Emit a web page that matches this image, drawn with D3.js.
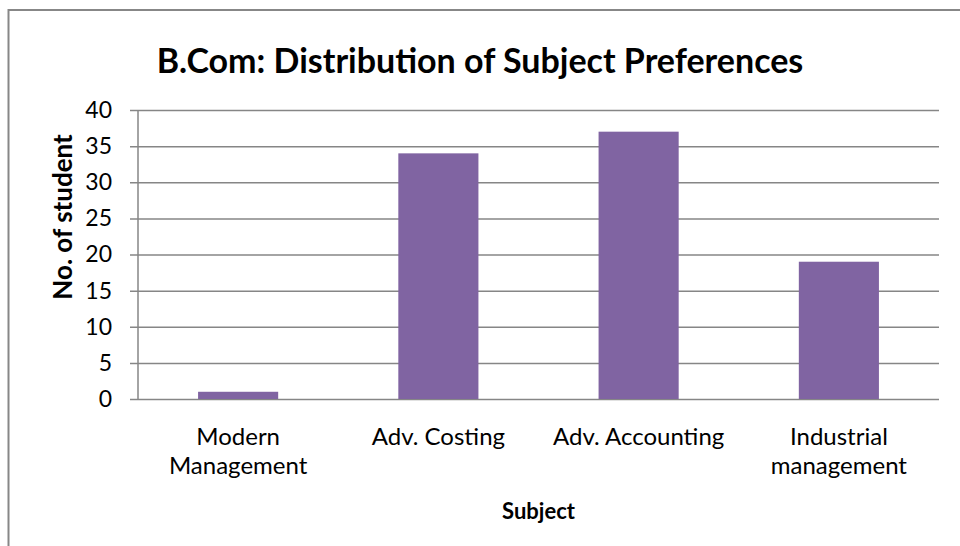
<!DOCTYPE html>
<html>
<head>
<meta charset="utf-8">
<script src="https://cdn.jsdelivr.net/npm/d3@7"></script>
<style>
  body { margin: 0; background: #fff; }
  svg { display: block; font-family: Lato, "Open Sans", sans-serif; }
</style>
</head>
<body>
<svg id="svg" width="960" height="546"></svg>
<script>
var subjects = ['Modern Management', 'Adv. Costing', 'Adv. Accounting', 'Industrial management'];
var subjectLines = [['Modern', 'Management'], ['Adv. Costing'], ['Adv. Accounting'], ['Industrial', 'management']];
var students = [1, 34, 37, 19];
var yTicks = [0, 5, 10, 15, 20, 25, 30, 35, 40];

var svg = d3.select('#svg');
var margin = { top: 110, right: 21, bottom: 147, left: 138 };
var width = 960, height = 546;
var innerW = width - margin.left - margin.right;
var innerH = height - margin.top - margin.bottom;

// outer chart border, runs off the page on the right and bottom
svg.append('rect')
   .attr('x', 8.5).attr('y', 10)
   .attr('width', 1000).attr('height', 600)
   .attr('fill', 'none')
   .attr('stroke', '#878787')
   .attr('stroke-width', 2);

var x = d3.scaleBand()
          .domain(subjects)
          .range([0, innerW])
          .paddingInner(0.6)
          .paddingOuter(0.3);

var y = d3.scaleLinear()
          .domain([0, 40])
          .range([innerH, 0]);

var g = svg.append('g')
           .attr('transform', 'translate(' + margin.left + ',' + margin.top + ')');

// gridlines + y axis
var yAxis = g.append('g')
   .call(d3.axisLeft(y).tickValues(yTicks).tickSize(-innerW).tickPadding(26))
yAxis.select('.domain').remove();
yAxis.selectAll('.tick line')
     .attr('x1', -8)
     .attr('stroke', '#868686')
     .attr('stroke-width', 1.5);
yAxis.selectAll('.tick text')
     .attr('fill', '#000')
     .style('font-family', 'Lato, sans-serif')
     .style('font-size', '23px');

g.append('line')
 .attr('x1', 0).attr('x2', 0)
 .attr('y1', 0).attr('y2', innerH)
 .attr('stroke', '#868686')
 .attr('stroke-width', 1.5);

// bars
g.selectAll('.bar')
 .data(students)
 .enter()
 .append('rect')
 .attr('class', 'bar')
 .attr('x', function(d, i) { return x(subjects[i]); })
 .attr('y', function(d) { return y(d); })
 .attr('width', x.bandwidth())
 .attr('height', function(d) { return innerH - y(d); })
 .attr('fill', '#8064A2');

// category labels
var lab = g.selectAll('.xlab')
 .data(subjects)
 .enter()
 .append('text')
 .attr('class', 'xlab')
 .attr('text-anchor', 'middle')
 .attr('transform', function(d) { return 'translate(' + (x(d) + x.bandwidth() / 2) + ',' + (innerH + 46) + ')'; })
 .style('font-size', '24px');
lab.selectAll('tspan')
   .data(function(d, i) { return subjectLines[i]; })
   .enter()
   .append('tspan')
   .attr('x', 0)
   .attr('y', function(d, i) { return i * 29; })
   .text(function(d) { return d; });

// axis titles
svg.append('text')
   .attr('x', margin.left + innerW / 2)
   .attr('y', 519)
   .attr('text-anchor', 'middle')
   .style('font-size', '22px')
   .style('font-weight', 'bold')
   .text('Subject');

svg.append('text')
   .attr('transform', 'translate(72,217) rotate(-90)')
   .attr('text-anchor', 'middle')
   .style('font-size', '26px')
   .style('font-weight', 'bold')
   .text('No. of student');

svg.append('text')
   .attr('x', 480)
   .attr('y', 73)
   .attr('text-anchor', 'middle')
   .style('font-size', '34px')
   .style('font-weight', 'bold')
   .text('B.Com: Distribution of Subject Preferences');
</script>
</body>
</html>
